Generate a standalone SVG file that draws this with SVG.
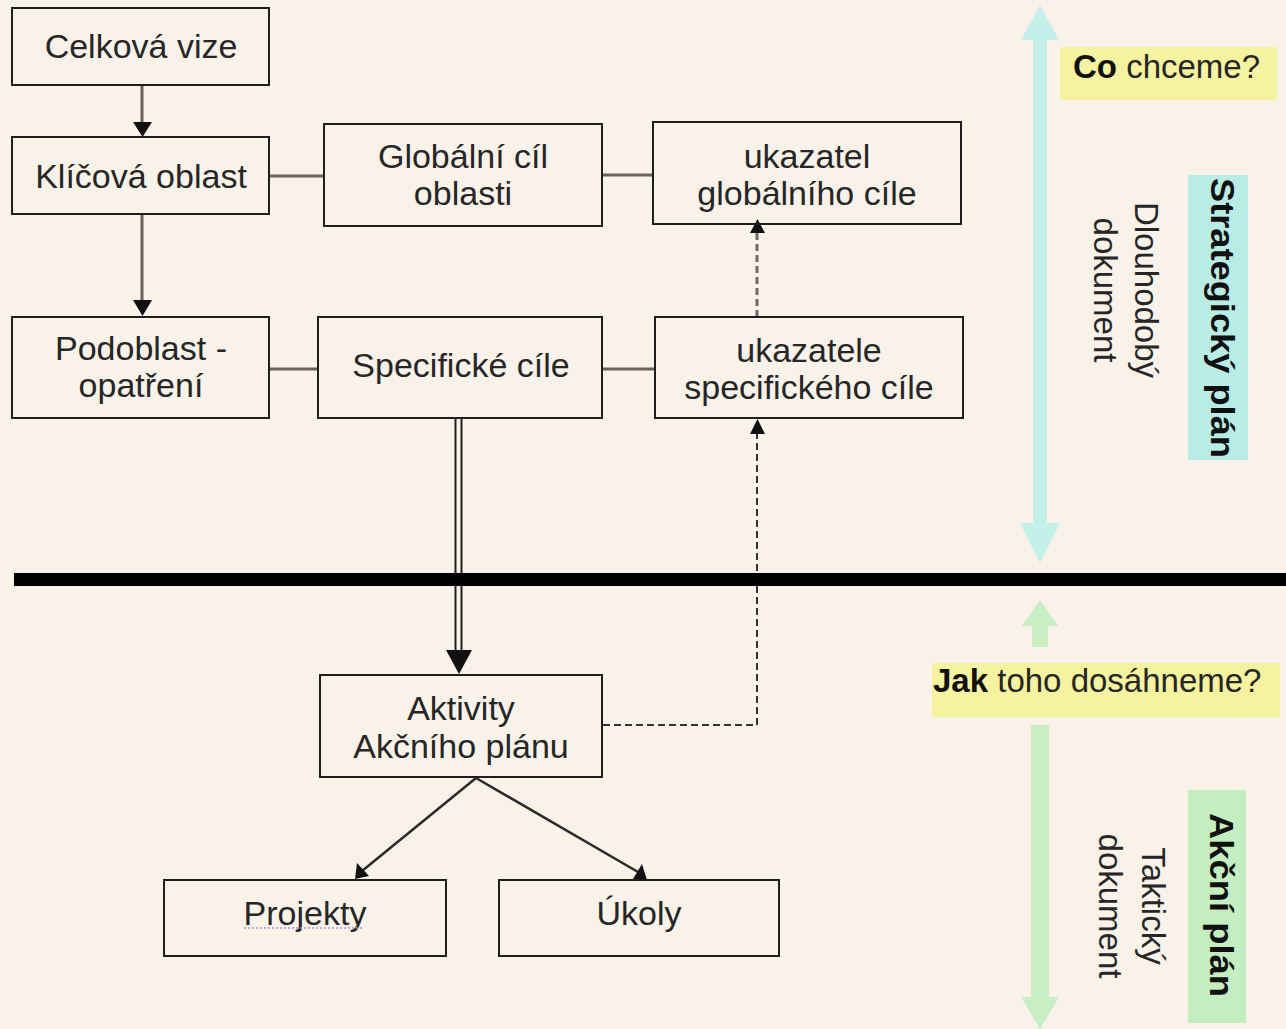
<svg xmlns="http://www.w3.org/2000/svg" width="1286" height="1029" viewBox="0 0 1286 1029">
<style>
.box{fill:none;stroke:#1e1e1e;stroke-width:2}
.t{font-family:"Liberation Sans",Arial,sans-serif;font-size:34px;fill:#262626;text-anchor:middle}
.tl{font-family:"Liberation Sans",Arial,sans-serif;font-size:33px;fill:#262626}
.b{font-weight:bold;fill:#111}
.gl{stroke:#69625c;stroke-width:3;fill:none}
.ah{fill:#111}
.dash{stroke:#6e6a66;stroke-width:3;stroke-dasharray:7 4;fill:none}
</style>
<rect x="0" y="0" width="1286" height="1029" fill="#f9f2e9"/>

<g id="side">
  <rect x="1060" y="47" width="217" height="53" fill="#f5f39f"/>
  <rect x="932" y="663" width="348" height="54" fill="#f5f39f"/>
  <rect x="1188" y="175" width="60" height="285" fill="#b8ece4"/>
  <rect x="1188" y="790" width="58" height="233" fill="#c4eec0"/>
  <g fill="#c4f0ea">
    <rect x="1033" y="36" width="14" height="490"/>
    <polygon points="1040,5 1021,40 1059,40"/>
    <polygon points="1040,563 1020,523 1060,523"/>
  </g>
  <g fill="#c8efc4">
    <polygon points="1040,600 1022,626 1058,626"/>
    <rect x="1032" y="624" width="16" height="23"/>
    <rect x="1031" y="725" width="18" height="276"/>
    <polygon points="1021,997 1059,997 1040,1029"/>
  </g>
  <text class="tl" x="1073" y="78"><tspan class="b">Co</tspan> chceme?</text>
  <text class="tl" x="933" y="692"><tspan class="b">Jak</tspan> toho dosáhneme?</text>
  <text class="tl b" font-size="37" text-anchor="middle" textLength="280" lengthAdjust="spacingAndGlyphs" transform="translate(1211,318) rotate(90)">Strategický plán</text>
  <text class="tl" text-anchor="middle" transform="translate(1135,290) rotate(90)"><tspan x="0" y="0">Dlouhodobý</tspan><tspan x="0" y="41">dokument</tspan></text>
  <text class="tl b" font-size="37" text-anchor="middle" textLength="184" lengthAdjust="spacingAndGlyphs" transform="translate(1210,905) rotate(90)">Akční plán</text>
  <text class="tl" text-anchor="middle" transform="translate(1142,906) rotate(90)"><tspan x="0" y="0">Taktický</tspan><tspan x="0" y="43">dokument</tspan></text>
</g>

<g id="connectors">
  <line class="gl" x1="142" y1="85" x2="142" y2="124"/>
  <polygon class="ah" points="133,122 152,122 142.5,137"/>
  <line class="gl" x1="142" y1="214" x2="142" y2="302"/>
  <polygon class="ah" points="133,300 152,300 142.5,316"/>
  <line class="gl" x1="269" y1="176" x2="324" y2="176"/>
  <line class="gl" x1="602" y1="175" x2="653" y2="175"/>
  <line class="gl" x1="269" y1="369" x2="318" y2="369"/>
  <line class="gl" x1="602" y1="369" x2="655" y2="369"/>
  <line class="dash" x1="757" y1="317" x2="757" y2="232"/>
  <polygon class="ah" points="750,233 765,233 757.5,219"/>
  <polyline points="603,725 757,725 757,432" fill="none" stroke="#333" stroke-width="2" stroke-dasharray="7 4"/>
  <polygon class="ah" points="750,434 765,434 757.5,419"/>
  <line x1="455.5" y1="418" x2="455.5" y2="652" stroke="#1e1e1e" stroke-width="2"/>
  <line x1="461.5" y1="418" x2="461.5" y2="652" stroke="#1e1e1e" stroke-width="2"/>
  <polygon class="ah" points="446,650 472,650 459,674"/>
  <rect x="14" y="573" width="1272" height="13" fill="#000"/>
  <line x1="476" y1="778" x2="362" y2="871" stroke="#2a2a2a" stroke-width="2.5"/>
  <polygon class="ah" points="355,879 357,863 369,876"/>
  <line x1="476" y1="778" x2="638" y2="872" stroke="#2a2a2a" stroke-width="2.5"/>
  <polygon class="ah" points="647,880 633,879 642,864"/>
</g>

<g id="n-celkova-vize"><rect class="box" x="12" y="8" width="257" height="77"/><text class="t" x="141" y="58">Celková vize</text></g>
<g id="n-klicova-oblast"><rect class="box" x="12" y="137" width="257" height="77"/><text class="t" x="141" y="188">Klíčová oblast</text></g>
<g id="n-globalni-cil"><rect class="box" x="324" y="124" width="278" height="102"/><text class="t" x="463"><tspan x="463" y="168">Globální cíl</tspan><tspan x="463" y="205">oblasti</tspan></text></g>
<g id="n-ukazatel-glob"><rect class="box" x="653" y="122" width="308" height="102"/><text class="t"><tspan x="807" y="168">ukazatel</tspan><tspan x="807" y="205">globálního cíle</tspan></text></g>
<g id="n-podoblast"><rect class="box" x="12" y="317" width="257" height="101"/><text class="t"><tspan x="141" y="360">Podoblast -</tspan><tspan x="141" y="397">opatření</tspan></text></g>
<g id="n-specificke-cile"><rect class="box" x="318" y="317" width="284" height="101"/><text class="t" x="461" y="377">Specifické cíle</text></g>
<g id="n-ukazatele-spec"><rect class="box" x="655" y="317" width="308" height="101"/><text class="t"><tspan x="809" y="362">ukazatele</tspan><tspan x="809" y="399">specifického cíle</tspan></text></g>
<g id="n-aktivity"><rect class="box" x="320" y="675" width="282" height="102"/><text class="t"><tspan x="461" y="720">Aktivity</tspan><tspan x="461" y="758">Akčního plánu</tspan></text></g>
<g id="n-projekty"><rect class="box" x="164" y="880" width="282" height="76"/><text class="t" x="305" y="925">Projekty</text><line x1="244" y1="928" x2="364" y2="928" stroke="#b48ad8" stroke-width="1.5" stroke-dasharray="2 2"/></g>
<g id="n-ukoly"><rect class="box" x="499" y="880" width="280" height="76"/><text class="t" x="639" y="925">Úkoly</text></g>
</svg>
